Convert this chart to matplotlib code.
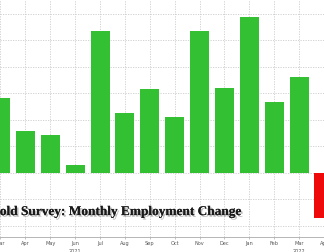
import matplotlib.pyplot as plt
import matplotlib.patheffects as pe
import numpy as np

# household survey employment change, thousands
months = ["Mar", "Apr", "May", "Jun", "Jul", "Aug", "Sep", "Oct", "Nov",
          "Dec", "Jan", "Feb", "Mar", "Apr"]
values = [566, 317, 287, 62, 1074, 455, 634, 423, 1072, 644, 1180, 538, 727,
          -342]
years = {3: "2021", 12: "2022"}

green = "#33c133"
red = "#ee0a0a"

fig = plt.figure(figsize=(3.24, 2.53), dpi=100)
ax = fig.add_axes([0, 15 / 253, 1, 238 / 253])

x = np.arange(len(values))
colors = [green if v >= 0 else red for v in values]
ax.bar(x, values, width=0.765, color=colors, zorder=2)

ax.set_xlim(-0.02, 12.76)
ax.set_ylim(-483, 1313)
ax.set_yticks(np.arange(-400, 1400, 200))
ax.set_xticks(x)
ax.set_xticklabels(months, fontsize=3.6, color="#555555")
ax.tick_params(axis="x", length=1.5, width=0.5, color="#aaaaaa", pad=0.8)
ax.tick_params(axis="y", length=0, labelleft=False)
ax.grid(True, color="#cccccc", linestyle=(0, (1.5, 1.5)), linewidth=0.6,
        zorder=0)
for s in ["top", "left", "right"]:
    ax.spines[s].set_visible(False)
ax.spines["bottom"].set_color("#aaaaaa")
ax.spines["bottom"].set_linewidth(0.6)

for i, yr in years.items():
    ax.text(i, -0.045, yr, transform=ax.get_xaxis_transform(), ha="center",
            va="top", fontsize=3.6, color="#555555")

ax.text(9.76, -295, "Household Survey: Monthly Employment Change",
        ha="right", va="center", fontsize=9.6, fontweight="bold",
        family="Liberation Serif", color="#1a1a1a", zorder=3,
        path_effects=[pe.withSimplePatchShadow(offset=(1.2, -1.2),
                                              shadow_rgbFace="#777777",
                                              alpha=0.5),
                      pe.Normal()])

fig.savefig("out.png", dpi=100)
